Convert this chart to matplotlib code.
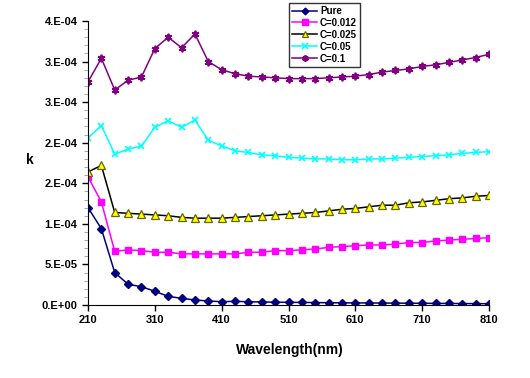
import matplotlib
matplotlib.use("Agg")
import matplotlib.pyplot as plt
import numpy as np

plt.rcParams['font.family'] = ['Liberation Sans', 'DejaVu Sans']
plt.rcParams['font.weight'] = 'bold'

# longueur d'onde (nm), un point tous les 20 nm
wavelength = np.arange(210, 811, 20)

# valeurs (x1e-4)
pure = [1.20, 0.94, 0.40, 0.255, 0.226, 0.169, 0.107, 0.082, 0.062, 0.049, 0.041,
        0.045, 0.040, 0.037, 0.035, 0.033, 0.032, 0.030, 0.028, 0.027, 0.026,
        0.025, 0.024, 0.023, 0.022, 0.021, 0.020, 0.019, 0.018, 0.017, 0.016]
c_012 = [1.58, 1.27, 0.66, 0.68, 0.67, 0.65, 0.65, 0.63, 0.63, 0.63, 0.63,
         0.63, 0.65, 0.65, 0.67, 0.67, 0.68, 0.69, 0.71, 0.72, 0.73,
         0.74, 0.74, 0.75, 0.77, 0.77, 0.79, 0.80, 0.81, 0.82, 0.83]
c_025 = [1.64, 1.72, 1.14, 1.13, 1.12, 1.11, 1.10, 1.08, 1.07, 1.07, 1.07,
         1.08, 1.09, 1.10, 1.11, 1.12, 1.13, 1.14, 1.16, 1.18, 1.19,
         1.21, 1.23, 1.23, 1.26, 1.27, 1.29, 1.31, 1.32, 1.34, 1.35]
c_05 = [2.06, 2.21, 1.86, 1.92, 1.96, 2.19, 2.27, 2.19, 2.28, 2.03, 1.96,
        1.90, 1.88, 1.85, 1.84, 1.82, 1.81, 1.80, 1.80, 1.79, 1.79,
        1.80, 1.80, 1.81, 1.82, 1.83, 1.84, 1.85, 1.87, 1.88, 1.89]
c_1 = [2.75, 3.04, 2.65, 2.77, 2.81, 3.16, 3.30, 3.17, 3.34, 3.00, 2.90,
       2.85, 2.82, 2.81, 2.80, 2.79, 2.79, 2.79, 2.80, 2.81, 2.82,
       2.84, 2.87, 2.89, 2.91, 2.94, 2.96, 2.99, 3.02, 3.05, 3.09]

yticks = [0, 5e-5, 1e-4, 1.5e-4, 2e-4, 2.5e-4, 3e-4, 3.5e-4]
ytick_labels = ['0.E+00', '5.E-05', '1.E-04', '2.E-04', '2.E-04', '3.E-04', '3.E-04', '4.E-04']
xticks = [210, 310, 410, 510, 610, 710, 810]

fig = plt.figure(figsize=(5.30, 3.78), dpi=100)
ax = fig.add_axes([88/530, 1-305/378, (489-88)/530, (305-21)/378])

ax.plot(wavelength, np.array(pure)*1e-4, color='#000080', lw=1.1, marker='D', ms=4,
        mfc='#000080', mec='#000080', label='Pure')
ax.plot(wavelength, np.array(c_012)*1e-4, color='#FF00FF', lw=1.1, marker='s', ms=5,
        mfc='#FF00FF', mec='#FF00FF', label='C=0.012')
ax.plot(wavelength, np.array(c_025)*1e-4, color='black', lw=1.1, marker='^', ms=5.5,
        mfc='#FFFF00', mec='#666600', mew=0.9, label='C=0.025')
ax.plot(wavelength, np.array(c_05)*1e-4, color='#00FFFF', lw=1.1, marker='x', ms=5,
        mec='#00FFFF', mew=1.2, label='C=0.05')
ax.plot(wavelength, np.array(c_1)*1e-4, color='#800080', lw=1.1, marker=(6, 2, 0), ms=5.5,
        mec='#800080', mew=1.3, label='C=0.1')

ax.set_xlim(210, 810)
ax.set_ylim(0, 3.5e-4)
ax.set_xticks(xticks)
ax.set_yticks(yticks)
ax.set_yticklabels(ytick_labels)
ax.set_yticks(np.arange(0, 3.51e-4, 1e-5), minor=True)
ax.tick_params(axis='both', labelsize=8, direction='out', length=4, width=1)
ax.tick_params(axis='y', which='minor', length=3, color='#999999')
for lab in ax.get_xticklabels() + ax.get_yticklabels():
    lab.set_fontweight('bold')

ax.spines['top'].set_visible(False)
ax.spines['right'].set_visible(False)

fig.text(30/530, 1-160/378, 'k', fontsize=10, fontweight='bold', ha='center', va='center')
fig.text(290/530, 1-350/378, 'Wavelength(nm)', fontsize=10, fontweight='bold',
         ha='center', va='center')

leg = ax.legend(loc='upper left', bbox_to_anchor=(289/530, 1-3/378),
                bbox_transform=fig.transFigure, fontsize=7, frameon=True, fancybox=False,
                edgecolor='black', borderpad=0.3, labelspacing=0.2, handlelength=2.6,
                handletextpad=0.3, borderaxespad=0, markerscale=0.85)
leg.get_frame().set_linewidth(1)
for t in leg.get_texts():
    t.set_fontweight('bold')

fig.savefig('out.png', dpi=100)
